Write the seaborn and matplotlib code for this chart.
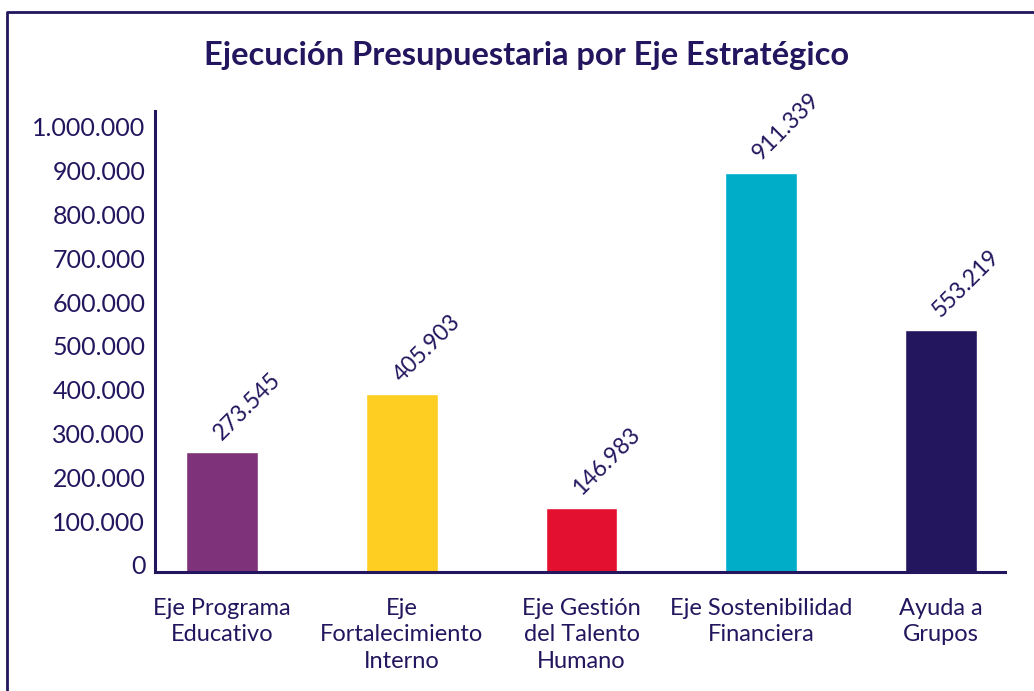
import matplotlib
matplotlib.use("Agg")
import matplotlib.pyplot as plt
import matplotlib.transforms as mtransforms
from matplotlib.lines import Line2D
from matplotlib.ticker import FuncFormatter
import seaborn as sns
import pandas as pd

# data
categories = [
    "Eje Programa\nEducativo",
    "Eje\nFortalecimiento\nInterno",
    "Eje Gestión\ndel Talento\nHumano",
    "Eje Sostenibilidad\nFinanciera",
    "Ayuda a\nGrupos",
]
values = [273545, 405903, 146983, 911339, 553219]
bar_colors = ["#7E3279", "#FFCE22", "#E3102F", "#00ADC9", "#24165E"]
y_ticks = [0, 100000, 200000, 300000, 400000, 500000, 600000, 700000, 800000, 900000, 1000000]

NAVY = "#24165E"


def fmt_miles(v):
    return f"{int(round(v)):,}".replace(",", ".")


sns.set_theme(style="white")
plt.rcParams["font.family"] = ["Lato", "DejaVu Sans"]

df = pd.DataFrame({"eje": categories, "monto": values})

fig = plt.figure(figsize=(10.34, 6.91), dpi=100)
ax = fig.add_axes([155 / 1034, 119 / 691, 850 / 1034, 461 / 691])

sns.barplot(data=df, x="eje", y="monto", hue="eje", palette=bar_colors,
            legend=False, width=0.4, saturation=1, ax=ax)

ax.set_xlim(-0.373, 4.356)
ax.set_ylim(0, 1052000)
ax.set_yticks(y_ticks)
ax.yaxis.set_major_formatter(FuncFormatter(lambda v, p: fmt_miles(v)))
ax.set_xlabel("")
ax.set_ylabel("")

for side in ["top", "right"]:
    ax.spines[side].set_visible(False)
for side in ["left", "bottom"]:
    ax.spines[side].set_color(NAVY)
    ax.spines[side].set_linewidth(2.2)

ax.tick_params(axis="y", length=0, pad=7, labelsize=18, labelcolor=NAVY)
ax.tick_params(axis="x", length=0, pad=19, labelsize=17, labelcolor=NAVY)

# y labels sit a bit above their gridline in the original
shift = mtransforms.ScaledTranslation(0, 7 / 100, fig.dpi_scale_trans)
for lbl in ax.get_yticklabels():
    lbl.set_transform(lbl.get_transform() + shift)

for lbl in ax.get_xticklabels():
    lbl.set_linespacing(1.3)

# value labels, rotated
for i, v in enumerate(values):
    ax.annotate(fmt_miles(v), xy=(i, v), xytext=(2, 6), textcoords="offset points",
                rotation=45, rotation_mode="anchor", ha="left", va="bottom",
                fontsize=16.5, color=NAVY)

fig.text(527 / 1034, 1 - 56 / 691, "Ejecución Presupuestaria por Eje Estratégico",
         ha="center", va="center", fontsize=23.5, fontweight="bold", color=NAVY)

# outer frame (left and top edges)
fx = 7 / 1034
fy = 1 - 11.5 / 691
fig.add_artist(Line2D([fx, fx, 1.0], [0.0, fy, fy], transform=fig.transFigure,
                      color=NAVY, linewidth=2))

fig.savefig("out.png", dpi=100)
